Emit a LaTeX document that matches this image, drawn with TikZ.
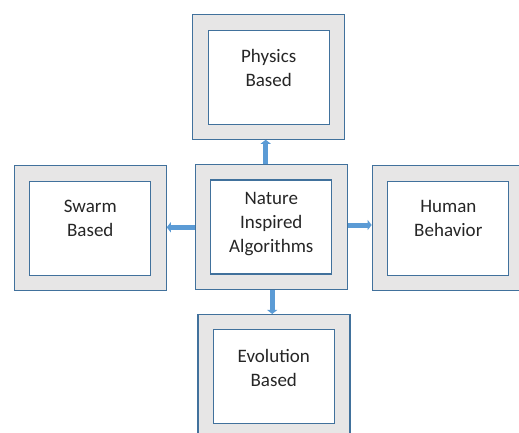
\documentclass[tikz,border=0pt]{standalone}
\usepackage{fontspec}
\setmainfont{Carlito}
\usetikzlibrary{arrows.meta,calc}
\definecolor{edgeblue}{HTML}{41719C}
\definecolor{arrowblue}{HTML}{5B9BD5}
\definecolor{framegray}{HTML}{E7E6E6}
\definecolor{txtgray}{HTML}{262626}
\begin{document}
\begin{tikzpicture}[x=1pt,y=-1pt,
  outerbox/.style={draw=edgeblue,line width=1.1pt,fill=framegray,minimum width=152pt,minimum height=125pt,inner sep=0pt},
  innerbox/.style={draw=edgeblue,line width=1.1pt,fill=white,minimum width=121pt,minimum height=94pt,inner sep=0pt},
  boxtext/.style={anchor=north,align=center,inner sep=0pt,text=txtgray,font=\fontsize{19}{24}\selectfont},
  link/.style={draw=arrowblue,line width=5pt,-{Triangle[length=4pt,width=10pt]}}]
\useasboundingbox (0,0) rectangle (519,432);
\clip (0,0) rectangle (519,432);
% centre
\node[outerbox] (cO) at (271.2,226.7) {};
\node[innerbox] (cI) at (271.3,227) {};
\node[boxtext] (cT) at ([yshift=-12.5pt]cI.north) {Nature\\Inspired\\Algorithms};
% top
\node[outerbox] (tO) at (268.9,76.7) {};
\node[innerbox] (tI) at (268.7,77.3) {};
\node[boxtext] (tT) at ([yshift=-19.5pt]tI.north) {Physics\\Based};
% left
\node[outerbox] (lO) at (90.2,227.8) {};
\node[innerbox] (lI) at (90.3,228.2) {};
\node[boxtext] (lT) at ([yshift=-19.5pt]lI.north) {Swarm\\Based};
% right
\node[outerbox] (rO) at (448.2,228) {};
\node[innerbox] (rI) at (448.3,228.2) {};
\node[boxtext] (rT) at ([yshift=-19.5pt]rI.north) {Human\\Behavior};
% bottom
\node[outerbox] (bO) at (274,377) {};
\node[innerbox] (bI) at (273.8,376.7) {};
\node[boxtext] (bT) at ([yshift=-20pt]bI.north) {Evolution\\Based};
% links
\draw[link] ([xshift=-5.5pt]cO.north) -- ([xshift=-5.5pt]cO.north |- tO.south);
\draw[link] ([yshift=-0.6pt]cO.west) -- ([yshift=-0.6pt]cO.west -| lO.east);
\draw[link] ([yshift=1.7pt]cO.east) -- ([yshift=1.7pt]cO.east -| rO.west);
\draw[link] ([xshift=1pt]cO.south) -- ([xshift=1pt]cO.south |- bO.north);
\end{tikzpicture}
\end{document}
